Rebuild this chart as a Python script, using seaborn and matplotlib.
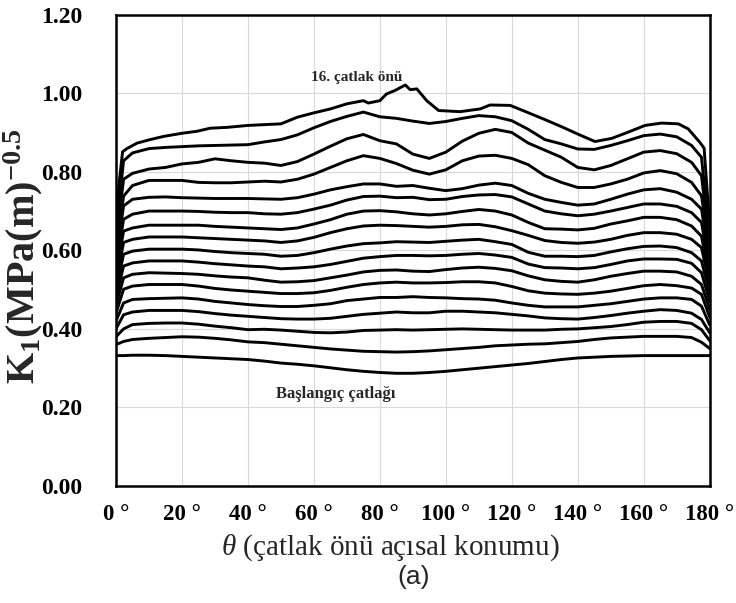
import numpy as np
import pandas as pd
import matplotlib
matplotlib.use("Agg")
import matplotlib.pyplot as plt
import seaborn as sns

# Angular position along the crack front (degrees)
theta = [0, 2.3, 5, 10, 15, 20, 25, 30, 35, 40, 45, 50, 55, 60, 65, 70, 75, 80, 85,
         90, 95, 100, 105, 110, 115, 120, 125, 130, 135, 140, 145, 150, 155, 160,
         165, 170, 174.5, 177.5, 180]

# Stress intensity factor K1 for each crack front (initial crack = front 0)
k_front_0 = [0.332, 0.332, 0.333, 0.333, 0.332, 0.330, 0.328, 0.326, 0.324, 0.322, 0.318, 0.313,
             0.310, 0.306, 0.301, 0.296, 0.292, 0.289, 0.287, 0.287, 0.289, 0.292, 0.296, 0.300,
             0.304, 0.308, 0.312, 0.317, 0.322, 0.326, 0.328, 0.330, 0.331, 0.332, 0.332, 0.332,
             0.332, 0.332, 0.332]
k_front_1 = [0.360, 0.368, 0.373, 0.376, 0.378, 0.380, 0.379, 0.376, 0.372, 0.367, 0.365, 0.361,
             0.357, 0.353, 0.349, 0.346, 0.343, 0.342, 0.341, 0.342, 0.344, 0.347, 0.350, 0.353,
             0.357, 0.359, 0.361, 0.362, 0.365, 0.368, 0.373, 0.377, 0.379, 0.381, 0.381, 0.381,
             0.378, 0.366, 0.350]
k_front_2 = [0.380, 0.400, 0.411, 0.414, 0.415, 0.415, 0.412, 0.407, 0.403, 0.398, 0.399, 0.397,
             0.394, 0.391, 0.390, 0.392, 0.396, 0.397, 0.398, 0.397, 0.398, 0.399, 0.400, 0.399,
             0.398, 0.397, 0.397, 0.397, 0.399, 0.400, 0.403, 0.406, 0.411, 0.417, 0.419, 0.419,
             0.414, 0.398, 0.370]
k_front_3 = [0.400, 0.436, 0.443, 0.447, 0.447, 0.447, 0.444, 0.439, 0.435, 0.432, 0.429, 0.426,
             0.425, 0.425, 0.427, 0.432, 0.437, 0.440, 0.443, 0.441, 0.441, 0.445, 0.445, 0.443,
             0.441, 0.437, 0.433, 0.428, 0.426, 0.425, 0.429, 0.434, 0.440, 0.445, 0.449, 0.447,
             0.440, 0.424, 0.390]
k_front_4 = [0.420, 0.466, 0.475, 0.477, 0.478, 0.479, 0.476, 0.470, 0.466, 0.462, 0.459, 0.457,
             0.457, 0.460, 0.464, 0.472, 0.476, 0.480, 0.480, 0.482, 0.480, 0.479, 0.477, 0.476,
             0.473, 0.466, 0.460, 0.456, 0.456, 0.456, 0.460, 0.464, 0.470, 0.476, 0.479, 0.479,
             0.475, 0.458, 0.410]
k_front_5 = [0.440, 0.501, 0.509, 0.513, 0.513, 0.513, 0.509, 0.503, 0.499, 0.496, 0.493, 0.490,
             0.490, 0.492, 0.498, 0.506, 0.513, 0.517, 0.519, 0.517, 0.517, 0.518, 0.520, 0.520,
             0.517, 0.508, 0.497, 0.491, 0.489, 0.488, 0.491, 0.496, 0.503, 0.510, 0.513, 0.510,
             0.504, 0.488, 0.430]
k_front_6 = [0.460, 0.530, 0.539, 0.543, 0.542, 0.541, 0.539, 0.535, 0.532, 0.530, 0.524, 0.519,
             0.520, 0.523, 0.530, 0.537, 0.545, 0.549, 0.550, 0.547, 0.546, 0.551, 0.555, 0.557,
             0.554, 0.548, 0.535, 0.525, 0.521, 0.519, 0.525, 0.534, 0.541, 0.547, 0.547, 0.545,
             0.534, 0.513, 0.450]
k_front_7 = [0.480, 0.560, 0.568, 0.573, 0.573, 0.573, 0.570, 0.566, 0.563, 0.560, 0.558, 0.553,
             0.555, 0.558, 0.564, 0.572, 0.580, 0.584, 0.587, 0.587, 0.586, 0.587, 0.590, 0.592,
             0.588, 0.582, 0.565, 0.556, 0.555, 0.553, 0.556, 0.564, 0.573, 0.578, 0.578, 0.577,
             0.567, 0.543, 0.470]
k_front_8 = [0.500, 0.590, 0.598, 0.603, 0.603, 0.603, 0.601, 0.597, 0.594, 0.592, 0.590, 0.585,
             0.587, 0.594, 0.603, 0.611, 0.617, 0.619, 0.622, 0.621, 0.620, 0.623, 0.626, 0.628,
             0.622, 0.615, 0.595, 0.585, 0.585, 0.584, 0.587, 0.596, 0.604, 0.610, 0.611, 0.607,
             0.594, 0.573, 0.490]
k_front_9 = [0.520, 0.620, 0.628, 0.634, 0.634, 0.634, 0.632, 0.630, 0.628, 0.626, 0.624, 0.620,
             0.624, 0.633, 0.645, 0.655, 0.662, 0.664, 0.663, 0.661, 0.659, 0.661, 0.665, 0.666,
             0.660, 0.650, 0.638, 0.625, 0.620, 0.618, 0.621, 0.628, 0.638, 0.645, 0.645, 0.641,
             0.628, 0.607, 0.510]
k_front_10 = [0.540, 0.649, 0.657, 0.664, 0.664, 0.664, 0.664, 0.661, 0.659, 0.657, 0.655, 0.653,
              0.657, 0.667, 0.678, 0.692, 0.700, 0.701, 0.698, 0.693, 0.690, 0.693, 0.699, 0.704,
              0.700, 0.690, 0.671, 0.655, 0.654, 0.652, 0.656, 0.667, 0.675, 0.684, 0.684, 0.678,
              0.662, 0.636, 0.530]
k_front_11 = [0.560, 0.679, 0.692, 0.700, 0.700, 0.700, 0.699, 0.697, 0.696, 0.696, 0.693, 0.692,
              0.696, 0.705, 0.715, 0.728, 0.737, 0.738, 0.734, 0.735, 0.729, 0.730, 0.737, 0.741,
              0.742, 0.736, 0.718, 0.700, 0.693, 0.688, 0.692, 0.700, 0.709, 0.718, 0.718, 0.712,
              0.696, 0.671, 0.550]
k_front_12 = [0.580, 0.713, 0.730, 0.735, 0.736, 0.734, 0.733, 0.732, 0.732, 0.732, 0.731, 0.730,
              0.734, 0.743, 0.754, 0.762, 0.769, 0.769, 0.763, 0.765, 0.758, 0.752, 0.757, 0.766,
              0.771, 0.765, 0.745, 0.730, 0.722, 0.715, 0.718, 0.730, 0.743, 0.754, 0.757, 0.748,
              0.730, 0.705, 0.570]
k_front_13 = [0.600, 0.738, 0.765, 0.778, 0.778, 0.778, 0.773, 0.772, 0.772, 0.774, 0.776, 0.774,
              0.781, 0.794, 0.811, 0.828, 0.841, 0.834, 0.821, 0.804, 0.794, 0.805, 0.828, 0.840,
              0.842, 0.834, 0.818, 0.790, 0.773, 0.760, 0.760, 0.769, 0.781, 0.797, 0.803, 0.795,
              0.773, 0.739, 0.590]
k_front_14 = [0.620, 0.781, 0.796, 0.807, 0.811, 0.820, 0.824, 0.833, 0.828, 0.824, 0.822, 0.816,
              0.826, 0.845, 0.865, 0.884, 0.895, 0.879, 0.871, 0.845, 0.834, 0.850, 0.878, 0.898,
              0.908, 0.900, 0.873, 0.855, 0.837, 0.811, 0.805, 0.816, 0.833, 0.850, 0.854, 0.846,
              0.824, 0.790, 0.610]
k_front_15 = [0.650, 0.828, 0.848, 0.859, 0.862, 0.864, 0.866, 0.867, 0.868, 0.869, 0.876, 0.882,
              0.894, 0.912, 0.928, 0.941, 0.952, 0.940, 0.936, 0.929, 0.923, 0.928, 0.936, 0.943,
              0.940, 0.930, 0.908, 0.882, 0.871, 0.858, 0.857, 0.867, 0.879, 0.892, 0.896, 0.889,
              0.867, 0.837, 0.630]

# 16th crack front, sampled more densely around its peak
theta_16 = [0, 2.0, 3.3, 6.4, 10.4, 14.4, 20, 24.5, 28.6, 33.6, 40, 45, 50, 55, 60, 65, 70, 75,
            76.5, 80, 82, 84.6, 87.7, 89.2, 91.2, 94.2, 97.8, 104.3, 110.4, 113.4, 119.5, 124.5,
            130, 135, 140, 145.2, 150.3, 155.3, 160.4, 165.4, 170.5, 173.5, 177, 178.3, 180]
k_front_16 = [0.700, 0.851, 0.859, 0.873, 0.882, 0.890, 0.898, 0.903, 0.911, 0.913, 0.918, 0.920,
              0.922, 0.939, 0.950, 0.960, 0.973, 0.981, 0.975, 0.981, 0.998, 1.007, 1.021, 1.009,
              1.011, 0.981, 0.956, 0.953, 0.960, 0.970, 0.969, 0.952, 0.933, 0.915, 0.896, 0.877,
              0.885, 0.901, 0.918, 0.924, 0.922, 0.909, 0.875, 0.860, 0.660]

x_ticks = [0, 20, 40, 60, 80, 100, 120, 140, 160, 180]
y_ticks = [0.0, 0.2, 0.4, 0.6, 0.8, 1.0, 1.2]

fronts = [k_front_0, k_front_1, k_front_2, k_front_3, k_front_4, k_front_5, k_front_6,
          k_front_7, k_front_8, k_front_9, k_front_10, k_front_11, k_front_12, k_front_13,
          k_front_14, k_front_15]

frames = [pd.DataFrame({"theta": theta, "K": k, "front": i}) for i, k in enumerate(fronts)]
frames.append(pd.DataFrame({"theta": theta_16, "K": k_front_16, "front": 16}))
df = pd.concat(frames, ignore_index=True)

sns.set_theme(style="white")
plt.rcParams["font.family"] = ["Liberation Serif", "DejaVu Serif"]
plt.rcParams["mathtext.fontset"] = "custom"
plt.rcParams["mathtext.rm"] = "Liberation Serif:bold"
plt.rcParams["mathtext.bf"] = "Liberation Serif:bold"
plt.rcParams["mathtext.it"] = "Liberation Serif:italic"

fig = plt.figure(figsize=(7.36, 6.03), dpi=100)
ax = fig.add_axes([0.1576, 0.194, 0.8067, 0.7817])

sns.lineplot(data=df, x="theta", y="K", units="front", estimator=None, sort=False,
             color="black", linewidth=2.1, legend=False, ax=ax)

ax.set_xlim(0, 180)
ax.set_ylim(0, 1.2)
ax.set_xticks(x_ticks)
ax.set_yticks(y_ticks)
ax.set_xticklabels([f"{v} °" for v in x_ticks], fontsize=16.5, fontweight="bold")
ax.set_yticklabels([f"{v:.2f}" for v in y_ticks], fontsize=17, fontweight="bold")
ax.tick_params(axis="both", length=0, colors="black")
ax.tick_params(axis="y", pad=24)
ax.tick_params(axis="x", pad=13)
ax.set_xlabel("")
ax.set_ylabel("")

ax.grid(True, color="#d9d9d9", linewidth=0.8)
for sp in ax.spines.values():
    sp.set_color("black")
    sp.set_linewidth(1.8)

ax.text(73, 1.04, "16. çatlak önü", fontsize=11, fontweight="bold", ha="center", va="center")
ax.text(66.5, 0.233, "Başlangıç çatlağı", fontsize=12, fontweight="bold", ha="center", va="center")

fig.text(0.031, 0.575, r"K$_\mathrm{1}$(MPa(m)$^\mathrm{-0.5}$", rotation=90,
         fontsize=29, fontweight="bold", ha="center", va="center")
fig.text(0.530, 0.091, r"$\it{\theta}$ (çatlak önü açısal konumu)", fontsize=21,
         ha="center", va="center")
fig.text(0.562, 0.043, "(a)", fontsize=19, family="Liberation Sans", ha="center", va="center")

fig.savefig("out.png", dpi=100)
